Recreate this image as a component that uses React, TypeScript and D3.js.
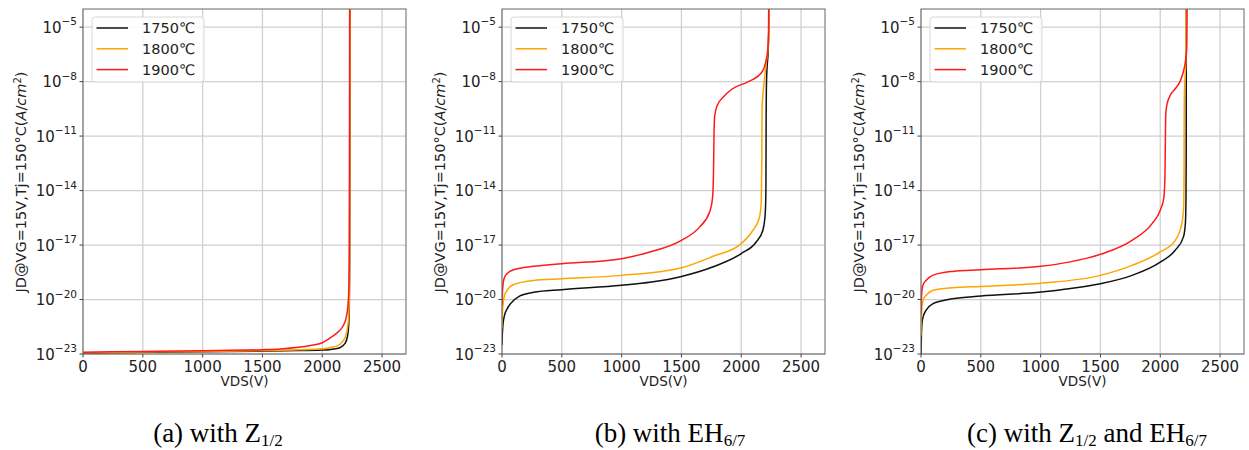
import React from "react";
import * as d3 from "d3";

// ---------- data (V in volts, J given as log10 of A/cm^2) ----------
const V_TICKS = [0, 500, 1000, 1500, 2000, 2500];
const J_EXP_TICKS = [-23, -20, -17, -14, -11, -8, -5];
const TEMPS = ["1750℃", "1800℃", "1900℃"];

// (a) with Z1/2
const a1750: [number, number][] = [[0,-22.95],[200,-22.93],[500,-22.91],[1000,-22.88],[1500,-22.84],[1800,-22.81],[2000,-22.78],[2100,-22.72],[2150,-22.64],[2190,-22.42],[2210,-22.05],[2220,-21.5],[2226,-20.5],[2229,-18],[2231,-10],[2232,-3]];
const a1800: [number, number][] = [[0,-22.93],[500,-22.89],[1000,-22.86],[1500,-22.81],[1800,-22.77],[2000,-22.71],[2100,-22.6],[2150,-22.45],[2190,-22.1],[2210,-21.6],[2222,-20.8],[2228,-19],[2231,-10],[2232,-3]];
const a1900: [number, number][] = [[0,-22.9],[250,-22.88],[500,-22.86],[1000,-22.82],[1500,-22.76],[1650,-22.72],[1800,-22.63],[1900,-22.53],[2000,-22.38],[2080,-22.05],[2130,-21.8],[2170,-21.5],[2200,-21.0],[2212,-20.5],[2222,-19.5],[2226,-17],[2228,-10],[2229,-3]];

// (b) with EH6/7
const b1750: [number, number][] = [[0,-22.5],[3,-21.9],[8,-21.4],[20,-20.9],[40,-20.55],[70,-20.24],[150,-19.8],[264,-19.6],[500,-19.46],[1000,-19.22],[1250,-19.04],[1500,-18.73],[1760,-18.21],[2000,-17.47],[2125,-16.83],[2180,-16.2],[2200,-15.3],[2206,-14],[2208,-10],[2211,-8],[2216,-7.2],[2225,-6.3],[2230,-5],[2231,-3]];
const b1800: [number, number][] = [[0,-21.6],[3,-20.8],[10,-20.2],[20,-19.8],[42,-19.5],[97,-19.17],[264,-18.95],[500,-18.86],[1000,-18.67],[1500,-18.25],[1764,-17.62],[2000,-16.92],[2097,-16.2],[2140,-15.7],[2158,-15.27],[2168,-14.5],[2172,-12],[2174,-9.5],[2180,-8.8],[2195,-7.8],[2208,-7.0],[2222,-6.3],[2230,-5.5],[2231,-3]];
const b1900: [number, number][] = [[0,-20.3],[3,-19.7],[10,-19.1],[20,-18.8],[42,-18.58],[97,-18.36],[264,-18.17],[500,-18.03],[1000,-17.75],[1236,-17.38],[1500,-16.74],[1653,-16.0],[1736,-15.17],[1760,-14.4],[1768,-13],[1772,-11],[1778,-9.9],[1800,-9.3],[1850,-8.85],[1920,-8.42],[2060,-8.0],[2170,-7.5],[2205,-6.9],[2222,-6.2],[2228,-5.3],[2230,-3]];

// (c) with Z1/2 and EH6/7
const c1750: [number, number][] = [[0,-23],[4,-21.8],[10,-21.2],[20,-20.9],[42,-20.6],[97,-20.24],[264,-19.96],[500,-19.81],[1000,-19.59],[1236,-19.41],[1500,-19.13],[1764,-18.67],[2000,-17.94],[2125,-17.29],[2194,-16.55],[2210,-15.8],[2215,-14.5],[2217,-12],[2218,-3]];
const c1800: [number, number][] = [[0,-22],[4,-20.9],[10,-20.3],[20,-20.0],[42,-19.78],[97,-19.5],[264,-19.35],[500,-19.28],[1000,-19.1],[1500,-18.67],[1764,-18.12],[2000,-17.38],[2125,-16.74],[2180,-15.82],[2195,-15.0],[2199,-13],[2200,-10],[2203,-8.3],[2210,-7.5],[2215,-6.5],[2218,-3]];
const c1900: [number, number][] = [[0,-20.8],[3,-20.0],[10,-19.4],[20,-19.15],[42,-18.95],[97,-18.67],[264,-18.45],[500,-18.36],[1000,-18.17],[1236,-17.94],[1500,-17.51],[1764,-16.74],[1931,-15.82],[2000,-15.08],[2030,-14.4],[2040,-13],[2043,-11],[2046,-9.8],[2055,-9.3],[2080,-8.8],[2130,-8.35],[2165,-8.0],[2195,-7.4],[2212,-6.8],[2222,-6.0],[2225,-3]];

const PANELS = [
  { series: [a1750, a1800, a1900], caption: [["(a) with Z", false], ["1/2", true]] },
  { series: [b1750, b1800, b1900], caption: [["(b) with EH", false], ["6/7", true]] },
  { series: [c1750, c1800, c1900], caption: [["(c) with Z", false], ["1/2", true], [" and EH", false], ["6/7", true]] },
];
const CAPTION_X = [218, 670, 1087];

// ---------- layout / style ----------
const W = 1249, H = 450;
const PLOT_W = 323, PLOT_TOP = 9, PLOT_BOTTOM = 354;
const PLOT_LEFTS = [83, 502, 921];
const COLORS = ["#111111", "#ffa500", "#ff1a1a"];
const SANS = "'DejaVu Sans', sans-serif";

function Panel({ idx }: { idx: number }) {
  const left = PLOT_LEFTS[idx];
  const x = d3.scaleLinear().domain([0, 2700]).range([left, left + PLOT_W]);
  const y = d3.scaleLog().domain([1e-23, 1e-4]).range([PLOT_BOTTOM, PLOT_TOP]);
  const line = d3
    .line<[number, number]>()
    .x((d) => x(d[0]))
    .y((d) => y(Math.pow(10, d[1])))
    .curve(d3.curveMonotoneX);
  const clipId = `clip-${idx}`;
  const { series } = PANELS[idx];
  const legL = left + 9, legT = 17, legW = 112, legH = 65;
  return (
    <g>
      <defs>
        <clipPath id={clipId}>
          <rect x={left} y={PLOT_TOP} width={PLOT_W} height={PLOT_BOTTOM - PLOT_TOP} />
        </clipPath>
      </defs>
      {/* grid */}
      {V_TICKS.map((v) => (
        <line key={"gv" + v} x1={x(v)} x2={x(v)} y1={PLOT_TOP} y2={PLOT_BOTTOM} stroke="#d0d0d0" strokeWidth={1.3} />
      ))}
      {J_EXP_TICKS.map((e) => (
        <line key={"gh" + e} x1={left} x2={left + PLOT_W} y1={y(Math.pow(10, e))} y2={y(Math.pow(10, e))} stroke="#d0d0d0" strokeWidth={1.3} />
      ))}
      {/* curves */}
      <g clipPath={`url(#${clipId})`}>
        {series.map((s, i) => (
          <path key={i} d={line(s) || ""} fill="none" stroke={COLORS[i]} strokeWidth={1.5} />
        ))}
      </g>
      {/* frame */}
      <rect x={left} y={PLOT_TOP} width={PLOT_W} height={PLOT_BOTTOM - PLOT_TOP} fill="none" stroke="#666" strokeWidth={1} />
      {/* y ticks */}
      {J_EXP_TICKS.map((e) => {
        const yy = y(Math.pow(10, e));
        return (
          <g key={"yt" + e}>
            <line x1={left - 3.5} x2={left} y1={yy} y2={yy} stroke="#444" strokeWidth={1} />
            <text x={left - 6} y={yy + 5.5} textAnchor="end" fontFamily={SANS} fontSize={15} fill="#222">
              10<tspan dy={-7.5} fontSize={10.5}>{"\u2212" + Math.abs(e)}</tspan>
            </text>
          </g>
        );
      })}
      {/* x ticks */}
      {V_TICKS.map((v) => (
        <g key={"xt" + v}>
          <line x1={x(v)} x2={x(v)} y1={PLOT_BOTTOM} y2={PLOT_BOTTOM + 3.5} stroke="#444" strokeWidth={1} />
          <text x={x(v)} y={PLOT_BOTTOM + 17.5} textAnchor="middle" fontFamily={SANS} fontSize={15} fill="#222">
            {v}
          </text>
        </g>
      ))}
      {/* axis labels */}
      <text x={left + PLOT_W / 2} y={386} textAnchor="middle" fontFamily={SANS} fontSize={13.5} fill="#222">VDS(V)</text>
      <text transform={`translate(${left - 57},182) rotate(-90)`} textAnchor="middle" fontFamily={SANS} fontSize={14.5} fill="#222">
        JD@VG=15V,Tj=150°C(<tspan fontStyle="italic">A</tspan>/<tspan fontStyle="italic">cm</tspan>
        <tspan dy={-5.5} fontSize={10}>2</tspan>
        <tspan dy={5.5}>)</tspan>
      </text>
      {/* legend */}
      <rect x={legL} y={legT} width={legW} height={legH} rx={3} fill="#fff" fillOpacity={0.85} stroke="#d8d8d8" strokeWidth={1} />
      {TEMPS.map((t, i) => {
        const ry = legT + 11 + i * 20.8;
        return (
          <g key={t}>
            <line x1={legL + 4.5} x2={legL + 36} y1={ry} y2={ry} stroke={COLORS[i]} strokeWidth={1.5} />
            <text x={legL + 50} y={ry + 5.3} fontFamily={SANS} fontSize={14.5} fill="#222">{t}</text>
          </g>
        );
      })}
      {/* caption */}
      <text x={CAPTION_X[idx]} y={442} textAnchor="middle" fontFamily="'Liberation Serif', serif" fontSize={27} fill="#000">
        {PANELS[idx].caption.map(([txt, sub], k) =>
          sub ? (
            <tspan key={k} fontSize={17} dy={4}>{txt as string}</tspan>
          ) : (
            <tspan key={k} dy={k === 0 ? 0 : -4}>{txt as string}</tspan>
          )
        )}
      </text>
    </g>
  );
}

export default function App() {
  return (
    <svg width={W} height={H} style={{ position: "absolute", left: 0, top: 0, background: "#fff" }}>
      <rect x={0} y={0} width={W} height={H} fill="#fff" />
      {PANELS.map((_, i) => (
        <Panel key={i} idx={i} />
      ))}
    </svg>
  );
}
